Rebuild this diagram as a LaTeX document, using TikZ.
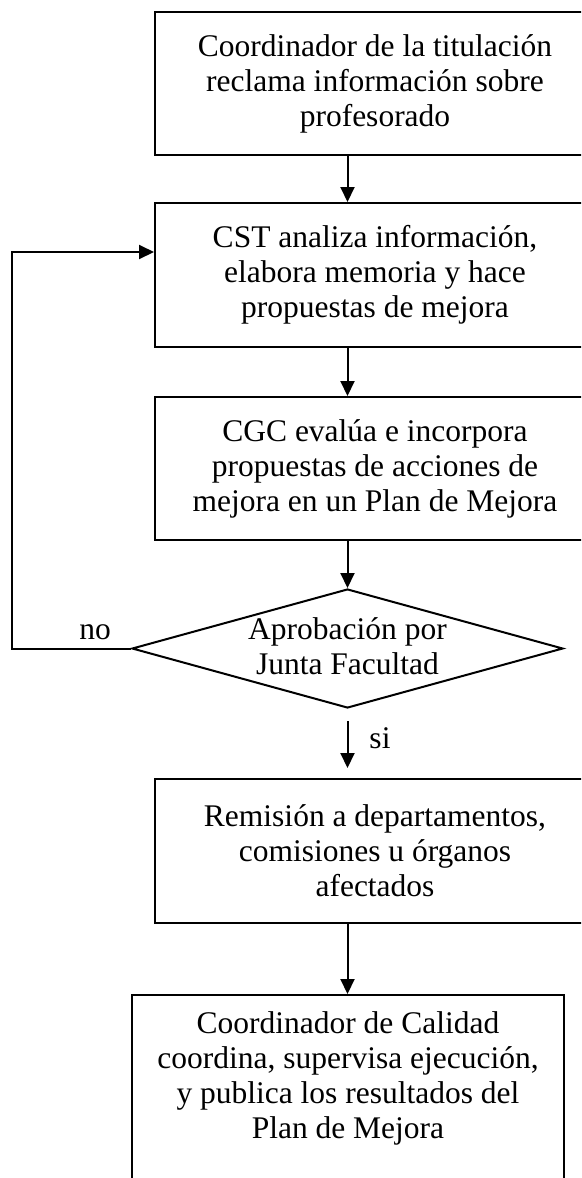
\documentclass[tikz,border=0pt]{standalone}
\usepackage{fontspec}
\setmainfont{Liberation Serif}
\usetikzlibrary{arrows.meta,shapes.geometric}
\begin{document}
\begin{tikzpicture}[x=1pt,y=-1pt,
  every node/.style={font=\fontsize{31.5}{35}\selectfont},
  boxA/.style={draw,line width=2pt,rectangle,minimum width=440pt,inner sep=0pt,align=center},
  boxB/.style={draw,line width=2pt,rectangle,minimum width=432pt,inner sep=0pt,align=center},
  decision/.style={draw,line width=2pt,diamond,minimum width=431pt,minimum height=119pt,inner sep=0pt},
  conn/.style={line width=2pt,-{Triangle[length=15pt,width=14pt]}},
  lbl/.style={inner sep=0pt}]
\useasboundingbox (0,0) rectangle (581,1178);
\clip (0,0) rectangle (581,1178);
\fill[white] (0,0) rectangle (581,1178);

\node[boxA,minimum height=143pt] (b1) at (375,83.5) {Coordinador de la titulación\\reclama información sobre\\profesorado};
\node[boxA,minimum height=144pt] (b2) at (375,275) {CST analiza información,\\elabora memoria y hace\\propuestas de mejora};
\node[boxA,minimum height=143pt] (b3) at (375,468.5) {CGC evalúa e incorpora\\propuestas de acciones de\\mejora en un Plan de Mejora};
\node[decision] (d) at (347.5,648.5) {};
\node[lbl] (dt) at ([yshift=2pt]d.center) [align=center] {Aprobación por\\Junta Facultad};
\node[boxA,minimum height=144pt] (b4) at (375,851) {Remisión a departamentos,\\comisiones u órganos\\afectados};
\node[boxB,minimum height=205pt] (b5) at (348,1097.5) {Coordinador de Calidad\\coordina, supervisa ejecución,\\y publica los resultados del\\Plan de Mejora\\\strut};

\coordinate (s1) at (347.5,721);
\coordinate (s2) at (347.5,768);
\coordinate (c1) at (12,648.5);
\coordinate (c2) at (12,252);

\draw[conn] (b1.south -| d.north) -- (b2.north -| d.north);
\draw[conn] (b2.south -| d.north) -- (b3.north -| d.north);
\draw[conn] (b3.south -| d.north) -- (d.north);
\draw[conn] (s1) -- (s2);
\draw[conn] (b4.south -| d.north) -- (b5.north -| d.north);
\draw[conn] (d.west) -- (c1) -- (c2) -- (c2 -| b2.west);

\node[lbl,anchor=base] (no) at (95,639) {no};
\node[lbl,anchor=base] (si) at (380,748) {si};
\end{tikzpicture}
\end{document}
